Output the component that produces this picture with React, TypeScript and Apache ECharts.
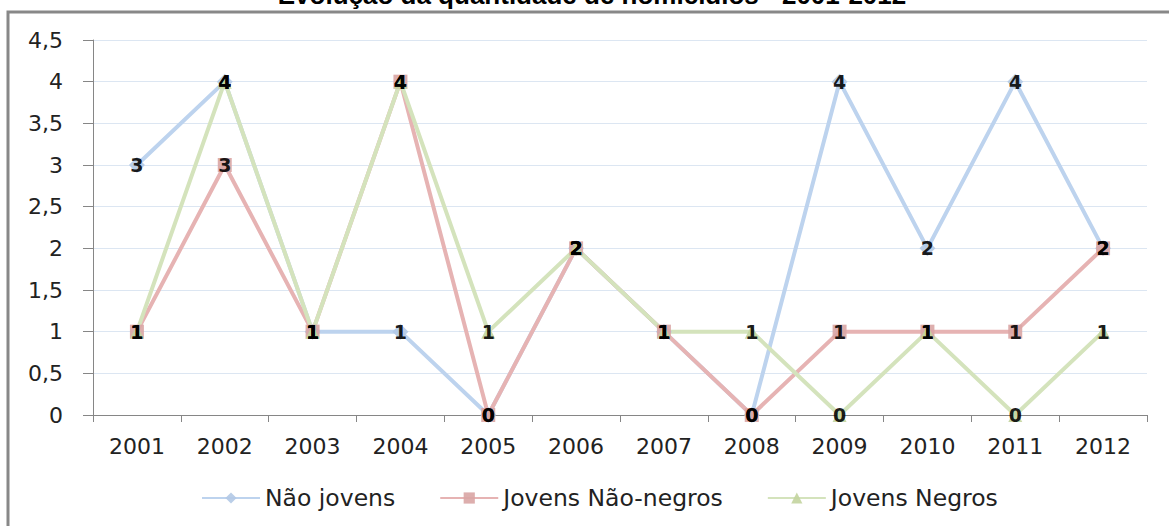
import React, { useEffect, useRef } from "react";
import * as echarts from "echarts";

const title = "Evolução da quantidade de homicídios - 2001-2012";
const years = ["2001", "2002", "2003", "2004", "2005", "2006", "2007", "2008", "2009", "2010", "2011", "2012"];
const naoJovens = [3, 4, 1, 1, 0, 2, 1, 0, 4, 2, 4, 2];
const jovensNaoNegros = [1, 3, 1, 4, 0, 2, 1, 0, 1, 1, 1, 2];
const jovensNegros = [1, 4, 1, 4, 1, 2, 1, 1, 0, 1, 0, 1];

const FONT = "DejaVu Sans";

export default function App() {
  const ref = useRef<HTMLDivElement>(null);
  useEffect(() => {
    if (!ref.current) return;
    const chart = echarts.init(ref.current, null, { renderer: "svg" });
    const label = {
      show: true,
      position: "inside",
      color: "#000",
      fontFamily: FONT,
      fontWeight: "bold",
      fontSize: 19,
    };
    const mk = (name: string, data: number[], color: string, mColor: string, symbol: string, size: number) => ({
      name,
      type: "line",
      data,
      symbol,
      symbolSize: size,
      lineStyle: { color, width: 4 },
      itemStyle: { color: mColor, opacity: 0.9 },
      label,
      z: 2,
    });
    chart.setOption({
      animation: false,
      color: ["#BDD3EE", "#E6B3B3", "#D4E3BC"],
      grid: { left: 93, right: 22, top: 40, bottom: 111 },
      graphic: [
        {
          type: "rect",
          shape: { x: 8, y: 12, width: 1200, height: 600 },
          style: { fill: "none", stroke: "#888888", lineWidth: 3 },
          silent: true,
        },
        {
          type: "text",
          x: 592,
          y: 8,
          style: {
            text: title,
            font: `bold 26px "Liberation Sans"`,
            fill: "#000",
            align: "center",
            verticalAlign: "bottom",
          },
        },
      ],
      legend: {
        left: 196,
        top: 481,
        itemWidth: 58,
        itemHeight: 14,
        itemGap: 44,
        textStyle: { fontFamily: FONT, fontSize: 23.5, color: "#222" },
        data: ["Não jovens", "Jovens Não-negros", "Jovens Negros"],
      },
      xAxis: {
        type: "category",
        data: years,
        boundaryGap: true,
        axisLine: { lineStyle: { color: "#868686", width: 1 } },
        axisTick: { show: true, length: 7, lineStyle: { color: "#868686" } },
        axisLabel: { fontFamily: FONT, fontSize: 22, color: "#222", margin: 20 },
        splitLine: { show: false },
      },
      yAxis: {
        type: "value",
        min: 0,
        max: 4.5,
        interval: 0.5,
        axisLine: { show: true, lineStyle: { color: "#868686", width: 1 } },
        axisTick: { show: true, length: 10, lineStyle: { color: "#868686" } },
        axisLabel: {
          fontFamily: FONT,
          fontSize: 22,
          color: "#222",
          margin: 30,
          formatter: (v: number) => String(v).replace(".", ","),
        },
        splitLine: { lineStyle: { color: "#DCE6F2", width: 1 } },
      },
      series: [
        mk("Não jovens", naoJovens, "#BDD3EE", "#B3C9E6", "diamond", 16),
        mk("Jovens Não-negros", jovensNaoNegros, "#E6B3B3", "#D9A5A4", "rect", 14),
        mk("Jovens Negros", jovensNegros, "#D4E3BC", "#C3D49E", "triangle", 14),
      ],
    });
    return () => chart.dispose();
  }, []);
  return (
    <div
      ref={ref}
      style={{ position: "absolute", left: 0, top: 0, width: 1169, height: 526, background: "#fff" }}
    />
  );
}
